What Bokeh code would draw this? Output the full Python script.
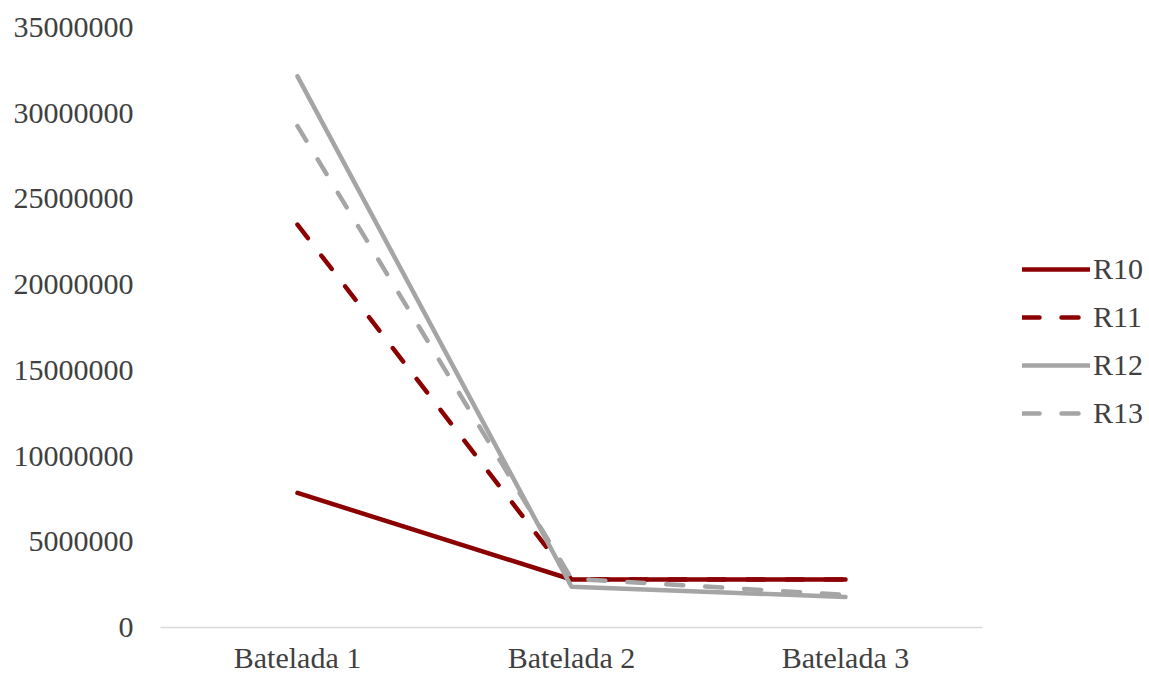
from bokeh.plotting import figure
from bokeh.models import Range1d, FixedTicker, Legend, LegendItem, ColumnDataSource
from bokeh.embed import file_html
from bokeh.resources import INLINE

# Batch-wise values per reactor
categories = ["Batelada 1", "Batelada 2", "Batelada 3"]
r10 = [7.85e6, 2.8e6, 2.8e6]
r11 = [23.5e6, 2.8e6, 2.8e6]
r12 = [32.15e6, 2.38e6, 1.78e6]
r13 = [29.25e6, 2.85e6, 1.9e6]
y_ticks = [0, 5000000, 10000000, 15000000, 20000000, 25000000, 30000000, 35000000]

series = [
    ("R10", r10, "#8B0000", "solid"),
    ("R11", r11, "#8B0000", "17 22"),
    ("R12", r12, "#A5A5A5", "solid"),
    ("R13", r13, "#A5A5A5", "17 22"),
]

FONT = "Liberation Serif"
TEXT = "#404040"
FSIZE = "30px"

# category slots sit at 0.5, 1.5, 2.5; the extra room on the right holds the legend
x_pos = [i + 0.5 for i in range(len(categories))]
n_cat = len(categories)

p = figure(
    width=1149, height=676,
    x_range=Range1d(0, 3.6095),
    y_range=Range1d(0, 35000000),
    output_backend="svg", toolbar_location=None,
    min_border_left=160, min_border_right=0,
    min_border_top=27, min_border_bottom=48,
)
p.outline_line_color = None
p.xgrid.visible = False
p.ygrid.visible = False

items = []
for name, vals, color, dash in series:
    src = ColumnDataSource(dict(x=x_pos, y=vals))
    r = p.line("x", "y", source=src, line_color=color, line_width=4.5,
               line_dash=dash, line_cap="round", line_join="round")
    items.append(LegendItem(label=name, renderers=[r]))

# x axis
xa = p.xaxis[0]
xa.bounds = (0, n_cat)
xa.ticker = FixedTicker(ticks=x_pos)
xa.major_label_overrides = {x: c for x, c in zip(x_pos, categories)}
xa.axis_line_color = "#D9D9D9"
xa.axis_line_width = 1.5
xa.major_tick_line_color = None
xa.minor_tick_line_color = None
xa.major_tick_out = 0
xa.minor_tick_out = 0
xa.major_label_text_font = FONT
xa.major_label_text_font_size = FSIZE
xa.major_label_text_color = TEXT
xa.major_label_standoff = 13

# y axis
ya = p.yaxis[0]
ya.ticker = FixedTicker(ticks=y_ticks)
ya.major_label_overrides = {t: str(t) for t in y_ticks}
ya.axis_line_color = None
ya.major_tick_line_color = None
ya.minor_tick_line_color = None
ya.major_tick_out = 0
ya.minor_tick_out = 0
ya.major_label_text_font = FONT
ya.major_label_text_font_size = FSIZE
ya.major_label_text_color = TEXT
ya.major_label_standoff = 27

legend = Legend(items=items, location=(862, 197), orientation="vertical")
legend.border_line_color = None
legend.background_fill_alpha = 0
legend.padding = 0
legend.margin = 0
legend.spacing = 14
legend.glyph_width = 68
legend.glyph_height = 34
legend.label_height = 34
legend.label_standoff = 3
legend.label_text_font = FONT
legend.label_text_font_size = FSIZE
legend.label_text_color = TEXT
p.add_layout(legend, "center")

open("out.html", "w").write(file_html(p, INLINE))
